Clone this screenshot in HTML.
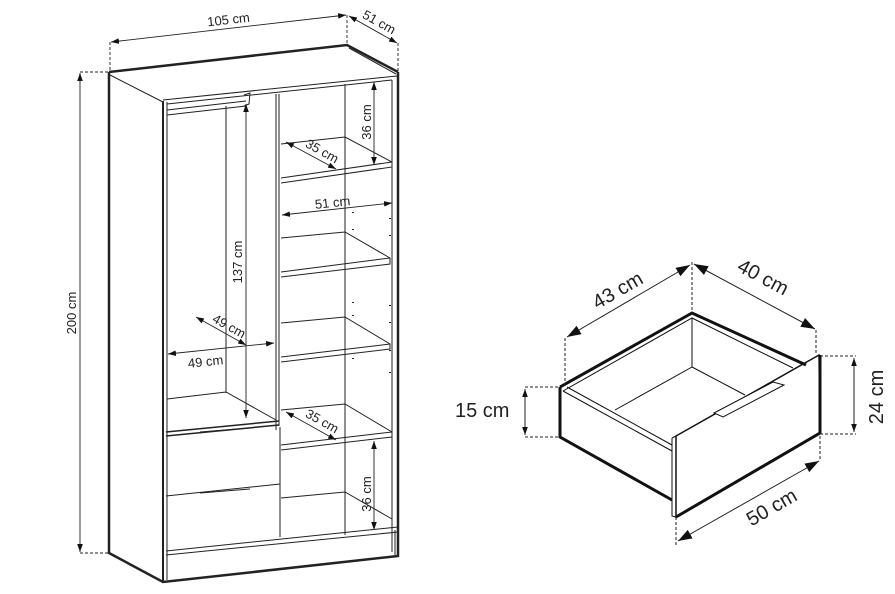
<!DOCTYPE html>
<html><head><meta charset="utf-8"><style>
html,body{margin:0;padding:0;background:#fff;}
svg{display:block;}
text{font-family:"Liberation Sans",sans-serif;fill:#222;}
</style></head><body>
<svg width="895" height="594" viewBox="0 0 895 594" xmlns="http://www.w3.org/2000/svg">
<defs>
<marker id="a" viewBox="0 0 10 10" refX="10" refY="5" markerWidth="8" markerHeight="8" orient="auto-start-reverse" markerUnits="userSpaceOnUse"><path d="M0,1.5 L10,5 L0,8.5 z" fill="#111"/></marker>
<marker id="b" viewBox="0 0 10 10" refX="10" refY="5" markerWidth="14" markerHeight="14" orient="auto-start-reverse" markerUnits="userSpaceOnUse"><path d="M0,1.5 L10,5 L0,8.5 z" fill="#111"/></marker>
</defs>
<g fill="none" stroke="#222" stroke-width="1">
<path d="M109,72 L347,45 L398,72" stroke-width="2.5"/>
<path d="M110,75 L163,102 M349,48 L396,74"/>
<path d="M109,72 L109,553 L163,582 L398,556 L398,72" stroke-width="2.5"/>
<path d="M163,101 L163,582" stroke-width="2"/>
<path d="M163,100 L397,76"/>
<path d="M167,102 L167,580 M392,80 L392,552"/>
<path d="M167,104 L392,80"/>
<path d="M167,110 L246,101 M167,115 L246,106"/>
<path d="M276,94 L276,430 M279,94 L279,426"/>
<path d="M226,106 L226,393 M167,399 L226,392 L276,420"/>
<path d="M244,95 L250,93 L249,104 L244,106"/>
<path d="M345,84 L345,535"/>
<path d="M281,144 L345,137 L392,162 L392,167 L281,183 M281,178 L392,162"/>
<path d="M281,238 L345,232 L390,258 L390,264 L281,277 M281,272 L390,258"/>
<path d="M281,323 L345,317 L390,344 L390,349 L281,362 M281,357 L390,344"/>
<path d="M281,410 L345,404 L392,432 L392,437 L281,450 M281,445 L392,432"/>
<path d="M281,498 L345,492 L392,519"/>
<path d="M166,432 L279,421 M166,436 L279,425" stroke-width="1.5"/>
<path d="M200,432 L250,428"/>
<path d="M280,427 L280,537"/>
<path d="M166,496 L280,484"/>
<path d="M200,493 L250,489"/>
<path d="M166,551 L398,527 M166,555 L398,532"/>
<path d="M395,530 L395,555"/>
<g stroke-width="2"><path d="M353,212v1M353,229v1M390,218v1M390,235v1M353,302v1M353,315v1M390,305v1M390,322v1M353,358v1M390,350v1M390,372v1"/></g>
</g>
<g fill="none" stroke="#222" stroke-width="0.9">
<path d="M110,42 L110,71 M347,15 L347,45 M398,43 L398,72 M80,72 L110,72 M80,553 L109,553" stroke-dasharray="3,2"/>
<path d="M111,42 L346,15" marker-start="url(#a)" marker-end="url(#a)"/>
<path d="M349,16 L397,43" marker-start="url(#a)" marker-end="url(#a)"/>
<path d="M80,73 L80,552" marker-start="url(#a)" marker-end="url(#a)"/>
<path d="M246,104 L246,418" marker-start="url(#a)" marker-end="url(#a)"/>
<path d="M374,82 L374,165" marker-start="url(#a)" marker-end="url(#a)"/>
<path d="M286,142 L336,169" marker-start="url(#a)" marker-end="url(#a)"/>
<path d="M282,215 L392,203" marker-start="url(#a)" marker-end="url(#a)"/>
<path d="M196,317 L246,345" marker-start="url(#a)" marker-end="url(#a)"/>
<path d="M168,354 L274,343" marker-start="url(#a)" marker-end="url(#a)"/>
<path d="M286,412 L336,440" marker-start="url(#a)" marker-end="url(#a)"/>
<path d="M374,441 L374,530" marker-start="url(#a)" marker-end="url(#a)"/>
</g>
<g font-size="13">
<text x="229" y="24" text-anchor="middle" transform="rotate(-6.5 229 24)">105 cm</text>
<text x="377" y="26" text-anchor="middle" transform="rotate(29 377 26)">51 cm</text>
<text x="0" y="0" text-anchor="middle" transform="translate(76,313) rotate(-90)">200 cm</text>
<text x="0" y="0" text-anchor="middle" transform="translate(242,262) rotate(-90)">137 cm</text>
<text x="0" y="0" text-anchor="middle" transform="translate(371,122) rotate(-90)">36 cm</text>
<text x="0" y="0" text-anchor="middle" transform="translate(371,494) rotate(-90)">36 cm</text>
<text x="0" y="0" text-anchor="middle" transform="translate(320,155) rotate(29)">35 cm</text>
<text x="0" y="0" text-anchor="middle" transform="translate(320,425) rotate(29)">35 cm</text>
<text x="0" y="0" text-anchor="middle" transform="translate(227,330) rotate(29)">49 cm</text>
<text x="333" y="207" text-anchor="middle" transform="rotate(-6 333 207)">51 cm</text>
<text x="206" y="366" text-anchor="middle" transform="rotate(-6 206 366)">49 cm</text>
</g>
<g fill="none" stroke="#111">
<path d="M560,387 L692,313 L806,365" stroke-width="3"/>
<path d="M563,391 L692,318 L793,368 M692,318 L692,367 L615,410 M692,367 L745,395"/>
<path d="M563,391 L672,451 M567,387 L672,445"/>
<path d="M560,387 L560,437 L672,500" stroke-width="3"/>
<path d="M676,436 L819,355 L820,433 L676,517 Z" stroke-width="1.5"/>
<path d="M820,355 L820,433 L676,517" stroke-width="3"/>
<path d="M672,438 L672,516 L676,517 M672,438 L676,436"/>
<path d="M714,413 L773,382 L784,385 L723,417 Z" fill="#fff"/>
</g>
<g fill="none" stroke="#222" stroke-width="1">
<path d="M565,338 L565,387 M692,262 L692,313 M816,330 L816,355 M525,387 L560,387 M525,437 L560,437 M820,356 L856,356 M820,434 L856,434 M676,517 L676,545 M820,436 L820,460" stroke-dasharray="3,2"/>
<path d="M567,337 L690,265" marker-start="url(#b)" marker-end="url(#b)"/>
<path d="M694,264 L815,329" marker-start="url(#b)" marker-end="url(#b)"/>
<path d="M525,389 L525,435" marker-start="url(#a)" marker-end="url(#a)"/>
<path d="M854,358 L854,432" marker-start="url(#a)" marker-end="url(#a)"/>
<path d="M678,541 L819,461" marker-start="url(#b)" marker-end="url(#b)"/>
</g>
<g font-size="20">
<text x="0" y="0" text-anchor="middle" transform="translate(621,296) rotate(-30)">43 cm</text>
<text x="0" y="0" text-anchor="middle" transform="translate(760,283) rotate(28)">40 cm</text>
<text x="455" y="417">15 cm</text>
<text x="0" y="0" text-anchor="middle" transform="translate(883,397) rotate(-90)">24 cm</text>
<text x="0" y="0" text-anchor="middle" transform="translate(775,513) rotate(-30)">50 cm</text>
</g>
</svg>
</body></html>
